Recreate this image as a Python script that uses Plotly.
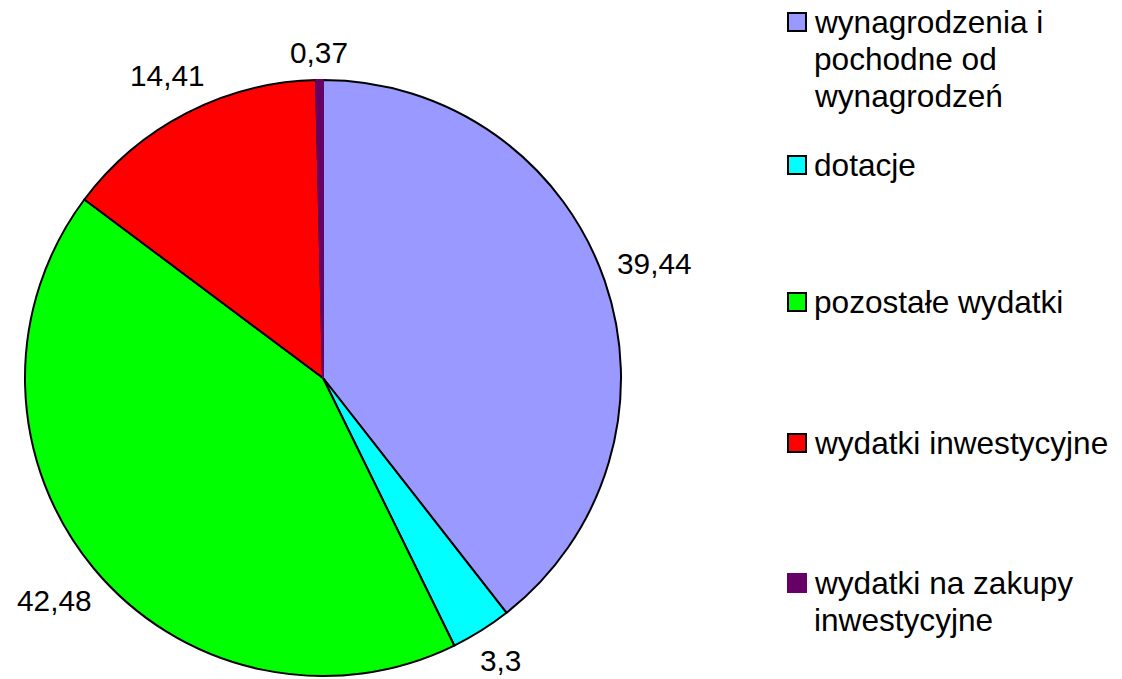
import math
import plotly.graph_objects as go

categories = ["wynagrodzenia i pochodne od wynagrodzeń", "dotacje", "pozostałe wydatki",
              "wydatki inwestycyjne", "wydatki na zakupy inwestycyjne"]
legend_lines = [["wynagrodzenia i", "pochodne od", "wynagrodzeń"], ["dotacje"], ["pozostałe wydatki"],
                ["wydatki inwestycyjne"], ["wydatki na zakupy", "inwestycyjne"]]
values = [39.44, 3.3, 42.48, 14.41, 0.37]
colors = ["#9999FF", "#00FFFF", "#00FF00", "#FF0000", "#660066"]
border_colors = ["#000000", "#000000", "#000000", "#000000", "#660066"]

W, H = 1122, 679
OFF = 8  # page body margin
FONT = "Liberation Sans, Arial, sans-serif"
LABEL_FS = 29.8
LEGEND_FS = 31.6

def px(x):
    return (x - OFF) / W

def py(y):
    return 1 - (y - OFF) / H

text_labels = [f"{v:g}".replace(".", ",") for v in values]

CX, CY, R = 323, 378, 298

fig = go.Figure(go.Pie(
    labels=categories,
    values=values,
    text=text_labels,
    textinfo="none",
    sort=False,
    direction="clockwise",
    rotation=0,
    marker=dict(colors=colors, line=dict(color=border_colors, width=2)),
    domain=dict(x=[px(CX - R), px(CX + R)], y=[py(CY + R), py(CY - R)]),
    showlegend=False,
    hoverinfo="label+value",
))

annotations = []
shapes = []

# data labels placed outside each slice along its mid-angle
total = sum(values)
cum = 0.0
GAP = 12
for v, t in zip(values, text_labels):
    mid = (cum + v / 2) / total * 2 * math.pi
    cum += v
    ux, uy = math.sin(mid), -math.cos(mid)
    w = sum(0.278 if ch == "," else 0.556 for ch in t) * LABEL_FS
    h = LABEL_FS
    d = R + GAP + (w / 2) * abs(ux) + (h / 2) * abs(uy)
    lx, ly = CX + d * ux, CY + d * uy
    annotations.append(dict(text=t, xref="paper", yref="paper", x=px(lx), y=py(ly),
                            xanchor="center", yanchor="middle", showarrow=False,
                            font=dict(family=FONT, size=LABEL_FS, color="black")))

# custom legend
legend_y = [22, 165, 302, 443, 583]
line_h = 37
for i, (lines, c, bc) in enumerate(zip(legend_lines, colors, border_colors)):
    yc = legend_y[i]
    shapes.append(dict(type="rect", xref="paper", yref="paper",
                       x0=px(788), x1=px(806), y0=py(yc + 9), y1=py(yc - 9),
                       fillcolor=c, line=dict(color=bc, width=2)))
    for j, t in enumerate(lines):
        annotations.append(dict(text=t, xref="paper", yref="paper", x=px(812), y=py(yc + j * line_h),
                                xanchor="left", yanchor="middle", showarrow=False,
                                font=dict(family=FONT, size=LEGEND_FS, color="black")))

fig.update_layout(
    width=W, height=H,
    margin=dict(l=0, r=0, t=0, b=0),
    paper_bgcolor="white", plot_bgcolor="white",
    shapes=shapes, annotations=annotations,
)
fig.write_html("out.html")
